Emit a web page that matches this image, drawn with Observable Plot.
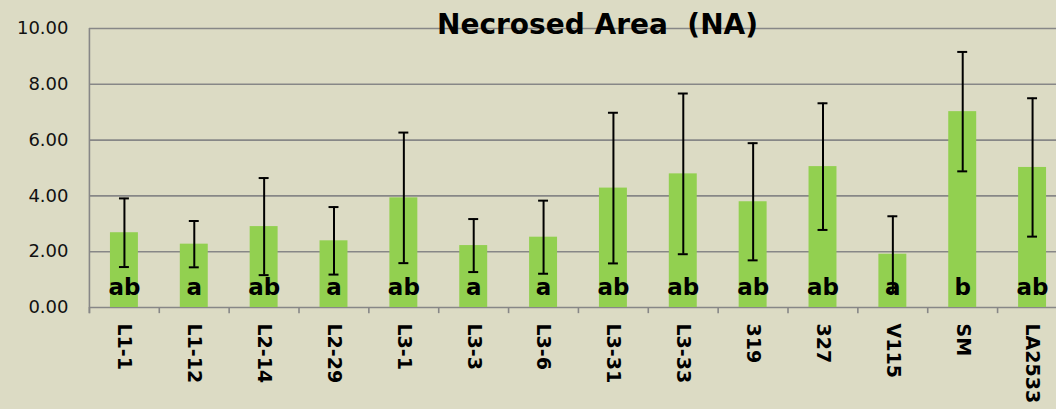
<!DOCTYPE html>
<html>
<head>
<meta charset="utf-8">
<script src="https://cdn.jsdelivr.net/npm/d3@7"></script>
<script src="https://cdn.jsdelivr.net/npm/@observablehq/plot@0.6"></script>
<style>
  html, body { margin: 0; padding: 0; background: #dcdbc4; overflow: hidden; }
  #chart { width: 1056px; height: 409px; overflow: hidden; }
  #chart svg { max-width: none !important; }
</style>
</head>
<body>
<div id="chart"></div>
<script>
const titleText = "Necrosed Area  (NA)";
const categories = ["L1-1", "L1-12", "L2-14", "L2-29", "L3-1", "L3-3", "L3-6", "L3-31", "L3-33", "319", "327", "V115", "SM", "LA2533"];
const means = [2.68, 2.27, 2.90, 2.39, 3.93, 2.22, 2.52, 4.28, 4.79, 3.79, 5.05, 1.91, 7.02, 5.02];
const errors = [1.23, 0.83, 1.74, 1.21, 2.34, 0.95, 1.31, 2.70, 2.88, 2.10, 2.27, 1.36, 2.14, 2.48];
const letters = ["ab", "a", "ab", "a", "ab", "a", "a", "ab", "ab", "ab", "ab", "a", "b", "ab"];
const yTicks = [0, 2, 4, 6, 8, 10];

const data = categories.map((c, i) => ({cat: c, mean: means[i], sd: errors[i], letter: letters[i]}));

const grid = "#878787";
const chart = Plot.plot({
  width: 1067,
  height: 409,
  marginLeft: 89,
  marginRight: 0,
  marginTop: 28,
  marginBottom: 102,
  style: {background: "transparent", fontFamily: "'DejaVu Sans', Verdana, sans-serif", overflow: "visible", maxWidth: "none"},
  x: {domain: categories, paddingInner: 0.6, paddingOuter: 0.3, round: false, label: null},
  y: {domain: [0, 10], label: null},
  marks: [
    Plot.ruleY(yTicks, {stroke: grid, strokeWidth: 1.6}),
    Plot.ruleX([categories[0]], {x: d => d, y1: -0.22, y2: 10, dx: -35, stroke: grid, strokeWidth: 1.6}),
    Plot.ruleX(categories, {x: d => d, y1: 0, y2: -0.22, dx: -35, stroke: grid, strokeWidth: 1.6}),
    Plot.barY(data, {x: "cat", y: "mean", fill: "#92d050"}),
    Plot.ruleX(data, {x: "cat", y1: d => d.mean - d.sd, y2: d => d.mean + d.sd, stroke: "#000", strokeWidth: 2}),
    Plot.tickY(data, {x: "cat", y: d => d.mean + d.sd, insetLeft: 9, insetRight: 9, stroke: "#000", strokeWidth: 2}),
    Plot.tickY(data, {x: "cat", y: d => d.mean - d.sd, insetLeft: 9, insetRight: 9, stroke: "#000", strokeWidth: 2}),
    Plot.text(data, {x: "cat", y: 0, text: "letter", dy: -20, fontSize: 23, fontWeight: "bold", fill: "#000"}),
    Plot.axisY({ticks: yTicks, tickFormat: d3.format(".2f"), tickSize: 0, tickPadding: 21, fontSize: 18, fill: "#111", label: null}),
    Plot.axisX({tickSize: 0, tickPadding: 16, tickRotate: 90, fontSize: 19, fontWeight: "bold", fill: "#000", label: null}),
    Plot.text([titleText], {text: d => d, frameAnchor: "top", dx: 19, dy: 5, lineAnchor: "bottom", fontSize: 28, fontWeight: "bold", fill: "#000"})
  ]
});
document.getElementById("chart").appendChild(chart);
</script>
</body>
</html>
